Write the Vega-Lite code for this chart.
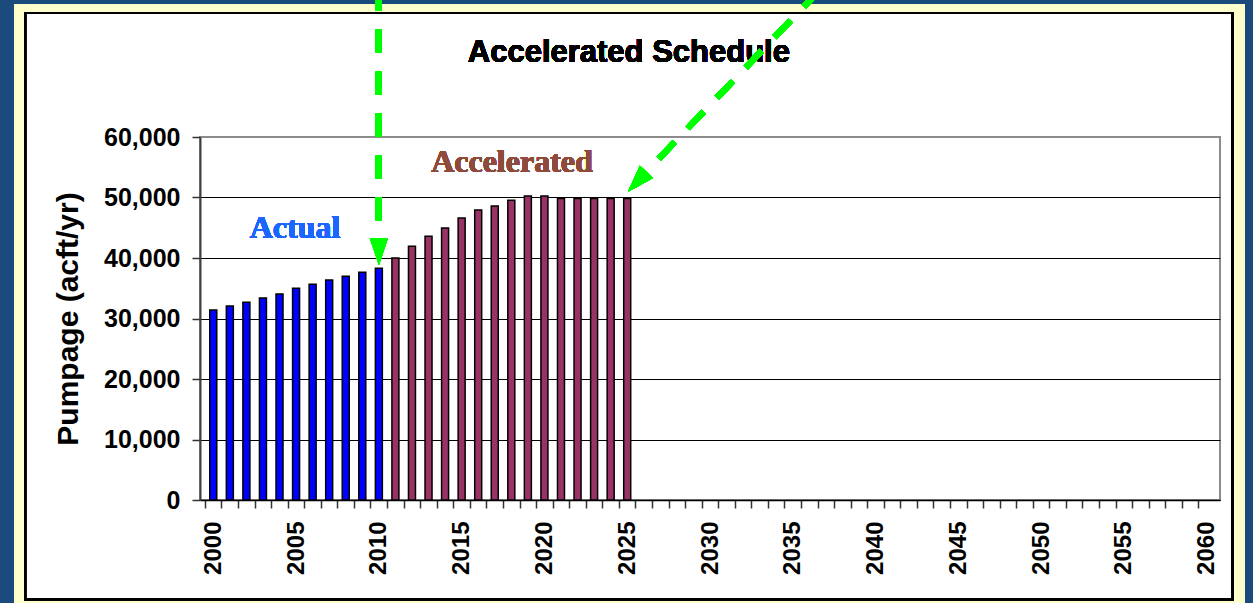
{
  "$schema": "https://vega.github.io/schema/vega-lite/v6.json",
  "width": 1020,
  "height": 363,
  "autosize": {"type": "none"},
  "padding": {"left": 200, "top": 137, "right": 33, "bottom": 103},
  "background": "white",
  "config": {
    "font": "Liberation Sans",
    "view": {"stroke": "#8c8c8c", "strokeWidth": 2, "fill": "white"}
  },
  "resolve": {"axis": {"x": "independent", "y": "independent"}},
  "data": {
    "values": [
      {"year": 2000, "pumpage": 31400, "period": "Actual"},
      {"year": 2001, "pumpage": 32050, "period": "Actual"},
      {"year": 2002, "pumpage": 32700, "period": "Actual"},
      {"year": 2003, "pumpage": 33400, "period": "Actual"},
      {"year": 2004, "pumpage": 34050, "period": "Actual"},
      {"year": 2005, "pumpage": 35000, "period": "Actual"},
      {"year": 2006, "pumpage": 35650, "period": "Actual"},
      {"year": 2007, "pumpage": 36350, "period": "Actual"},
      {"year": 2008, "pumpage": 37000, "period": "Actual"},
      {"year": 2009, "pumpage": 37650, "period": "Actual"},
      {"year": 2010, "pumpage": 38300, "period": "Actual"},
      {"year": 2011, "pumpage": 40000, "period": "Accelerated"},
      {"year": 2012, "pumpage": 41950, "period": "Accelerated"},
      {"year": 2013, "pumpage": 43600, "period": "Accelerated"},
      {"year": 2014, "pumpage": 44950, "period": "Accelerated"},
      {"year": 2015, "pumpage": 46600, "period": "Accelerated"},
      {"year": 2016, "pumpage": 47950, "period": "Accelerated"},
      {"year": 2017, "pumpage": 48600, "period": "Accelerated"},
      {"year": 2018, "pumpage": 49550, "period": "Accelerated"},
      {"year": 2019, "pumpage": 50250, "period": "Accelerated"},
      {"year": 2020, "pumpage": 50250, "period": "Accelerated"},
      {"year": 2021, "pumpage": 49850, "period": "Accelerated"},
      {"year": 2022, "pumpage": 49850, "period": "Accelerated"},
      {"year": 2023, "pumpage": 49850, "period": "Accelerated"},
      {"year": 2024, "pumpage": 49850, "period": "Accelerated"},
      {"year": 2025, "pumpage": 49850, "period": "Accelerated"}
    ]
  },
  "layer": [
    {
      "mark": {"type": "rect", "fillOpacity": 0, "stroke": "#ffffcc", "strokeWidth": 12},
      "encoding": {
        "x": {"datum": 1988.215, "type": "quantitative", "axis": null},
        "x2": {"datum": 2061.977},
        "y": {"datum": 81603, "type": "quantitative", "axis": null},
        "y2": {"datum": -17570}
      }
    },
    {
      "mark": {"type": "rect", "fillOpacity": 0, "stroke": "#1b4a7d", "strokeWidth": 14},
      "encoding": {
        "x": {"datum": 1987.539, "type": "quantitative", "axis": null},
        "x2": {"datum": 2062.772},
        "y": {"datum": 83256, "type": "quantitative", "axis": null},
        "y2": {"datum": -23140}
      }
    },
    {
      "mark": {"type": "rect", "fillOpacity": 0, "stroke": "black", "strokeWidth": 2},
      "encoding": {
        "x": {"datum": 1988.634, "type": "quantitative", "axis": null},
        "x2": {"datum": 2061.576},
        "y": {"datum": 80496, "type": "quantitative", "axis": null},
        "y2": {"datum": -16446}
      }
    },
    {
      "mark": {"type": "bar", "orient": "vertical", "width": 7, "stroke": "black", "strokeWidth": 1.5},
      "encoding": {
        "x": {
          "field": "year",
          "type": "quantitative",
          "scale": {"domain": [1999.5, 2060.5], "nice": false, "zero": false},
          "axis": {
            "title": null,
            "values": [2000, 2001, 2002, 2003, 2004, 2005, 2006, 2007, 2008, 2009, 2010, 2011, 2012, 2013, 2014, 2015, 2016, 2017, 2018, 2019, 2020, 2021, 2022, 2023, 2024, 2025, 2026, 2027, 2028, 2029, 2030, 2031, 2032, 2033, 2034, 2035, 2036, 2037, 2038, 2039, 2040, 2041, 2042, 2043, 2044, 2045, 2046, 2047, 2048, 2049, 2050, 2051, 2052, 2053, 2054, 2055, 2056, 2057, 2058, 2059, 2060, 2061],
            "format": "d",
            "labelExpr": "(datum.value % 5 === 0 && datum.value <= 2060) ? datum.label : ''",
            "labelAngle": 270,
            "labelAlign": "right",
            "labelBaseline": "middle",
            "labelFont": "Liberation Sans",
            "labelFontSize": 24,
            "labelFontWeight": "bold",
            "labelColor": "black",
            "labelPadding": 13,
            "labelOverlap": false,
            "labelFlush": false,
            "labelBound": false,
            "tickSize": 8,
            "tickColor": "#333333",
            "tickWidth": 1.5,
            "tickOffset": -8.36,
            "labelOffset": 8.36,
            "domainColor": "black",
            "domainWidth": 1.5,
            "grid": false
          }
        },
        "y": {
          "field": "pumpage",
          "type": "quantitative",
          "stack": null,
          "scale": {"domain": [0, 60000], "nice": false},
          "axis": {
            "title": "Pumpage (acft/yr)",
            "values": [0, 10000, 20000, 30000, 40000, 50000, 60000],
            "format": ",d",
            "labelFont": "Liberation Sans",
            "labelFontSize": 25,
            "labelFontWeight": "bold",
            "labelColor": "black",
            "labelPadding": 12,
            "tickSize": 8,
            "tickColor": "#333333",
            "tickWidth": 1.5,
            "domainColor": "#404040",
            "domainWidth": 2,
            "grid": true,
            "gridColor": {"condition": {"test": "datum.value >= 60000", "value": "#8c8c8c"}, "value": "black"},
            "gridWidth": 1,
            "titleFont": "Liberation Sans",
            "titleFontSize": 30,
            "titleFontWeight": "bold",
            "titleColor": "black",
            "titlePadding": 20
          }
        },
        "color": {
          "field": "period",
          "type": "nominal",
          "scale": {"domain": ["Actual", "Accelerated"], "range": ["#0000ff", "#993366"]},
          "legend": null
        }
      }
    },
    {
      "mark": {"type": "text", "text": "Accelerated Schedule", "font": "Liberation Sans", "fontSize": 31, "fontWeight": "bold", "fill": "black", "align": "center", "baseline": "alphabetic"},
      "encoding": {
        "x": {"datum": 2025.1, "type": "quantitative", "axis": null},
        "y": {"datum": 72397, "type": "quantitative", "axis": null}
      }
    },
    {
      "mark": {"type": "text", "text": "Accelerated", "font": "Liberation Serif", "fontSize": 32, "fontWeight": "bold", "fill": "#8f4a3c", "align": "center", "baseline": "alphabetic"},
      "encoding": {
        "x": {"datum": 2018.04, "type": "quantitative", "axis": null},
        "y": {"datum": 54264, "type": "quantitative", "axis": null}
      }
    },
    {
      "mark": {"type": "text", "text": "Actual", "font": "Liberation Serif", "fontSize": 32, "fontWeight": "bold", "fill": "#1a66ff", "align": "center", "baseline": "alphabetic"},
      "encoding": {
        "x": {"datum": 2004.94, "type": "quantitative", "axis": null},
        "y": {"datum": 43306, "type": "quantitative", "axis": null}
      }
    },
    {
      "mark": {"type": "rule", "color": "#00ff00", "strokeWidth": 6, "strokeDash": [23, 19], "strokeCap": "butt"},
      "encoding": {
        "x": {"datum": 2010, "type": "quantitative", "axis": null},
        "y": {"datum": 84711, "type": "quantitative", "axis": null},
        "y2": {"datum": 43306}
      }
    },
    {
      "mark": {"type": "rule", "color": "#00ff00", "strokeWidth": 6, "strokeDash": [23, 19], "strokeCap": "butt"},
      "encoding": {
        "x": {"datum": 2036.62, "type": "quantitative", "axis": null},
        "x2": {"datum": 2026.29},
        "y": {"datum": 84297, "type": "quantitative", "axis": null},
        "y2": {"datum": 54628}
      }
    },
    {
      "mark": {"type": "point", "shape": "M-0.667,-1L0.667,-1L0,1Z", "size": 729, "filled": true, "color": "#00ff00", "opacity": 1, "strokeWidth": 0, "angle": 0},
      "encoding": {
        "x": {"datum": 2010, "type": "quantitative", "axis": null},
        "y": {"datum": 41074, "type": "quantitative", "axis": null}
      }
    },
    {
      "mark": {"type": "point", "shape": "M-0.667,-1L0.667,-1L0,1Z", "size": 729, "filled": true, "color": "#00ff00", "opacity": 1, "strokeWidth": 0, "angle": 43},
      "encoding": {
        "x": {"datum": 2025.605, "type": "quantitative", "axis": null},
        "y": {"datum": 52595, "type": "quantitative", "axis": null}
      }
    }
  ]
}
